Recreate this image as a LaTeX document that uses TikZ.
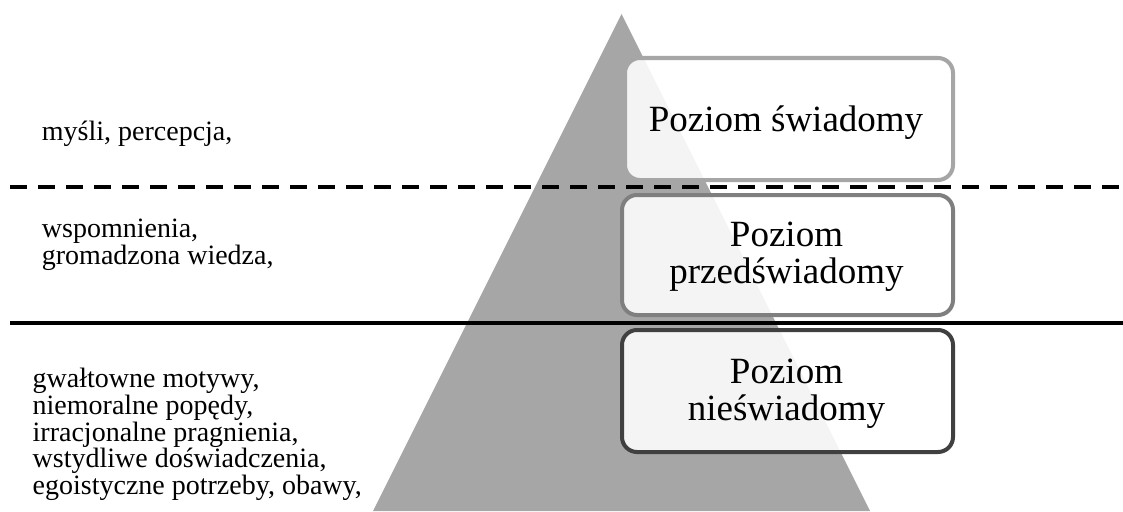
\documentclass[tikz,border=0pt]{standalone}
\usepackage{fontspec}
\setmainfont{Liberation Serif}
\begin{document}
\begin{tikzpicture}[x=1pt,y=-1pt,
  level/.style={draw, line width=4pt, rounded corners=15pt, fill=white, fill opacity=0.88, text opacity=1},
  leveltext/.style={font=\fontsize{37}{36.7}\selectfont, align=center, anchor=base, inner sep=0pt},
  side/.style={font=\fontsize{28}{26.7}\selectfont, align=left, anchor=base west, inner sep=0pt}]
\useasboundingbox (0,0) rectangle (1123,511);
% pyramid
\fill[fill={rgb,255:red,166;green,166;blue,166}] (373,511) -- (621.5,14) -- (870,511) -- cycle;
% level boundaries
\coordinate (dl) at (10,187);
\coordinate (dr) at (1123,187);
\coordinate (sl) at (10,322.7);
\coordinate (sr) at (1123,322.7);
\draw[line width=4pt, dash pattern=on 17pt off 11pt] (dl) -- (dr);
\draw[line width=4pt] (sl) -- (sr);
% level boxes
\draw[level, draw={rgb,255:red,166;green,166;blue,166}] (625,58) rectangle (953,180);
\draw[level, draw={rgb,255:red,127;green,127;blue,127}] (622,195) rectangle (953,315);
\draw[level, draw={rgb,255:red,64;green,64;blue,64}] (622,330) rectangle (953,452);
% text nodes are anchored at the baseline of their last line
\node[leveltext] (b1) at (786,131) {Poziom świadomy};
\node[leveltext] (b2) at (786.5,283.5) {Poziom\\przedświadomy};
\node[leveltext] (b3) at (786.5,420.5) {Poziom\\nieświadomy};
% side descriptions
\node[side] (t1) at (41.7,140.7) {myśli, percepcja,};
\node[side] (t2) at (41.7,264.5) {wspomnienia,\\gromadzona wiedza,};
\node[side] (t3) at (32.5,494.5) {gwałtowne motywy,\\niemoralne popędy,\\irracjonalne pragnienia,\\wstydliwe doświadczenia,\\egoistyczne potrzeby, obawy,};
\end{tikzpicture}
\end{document}
